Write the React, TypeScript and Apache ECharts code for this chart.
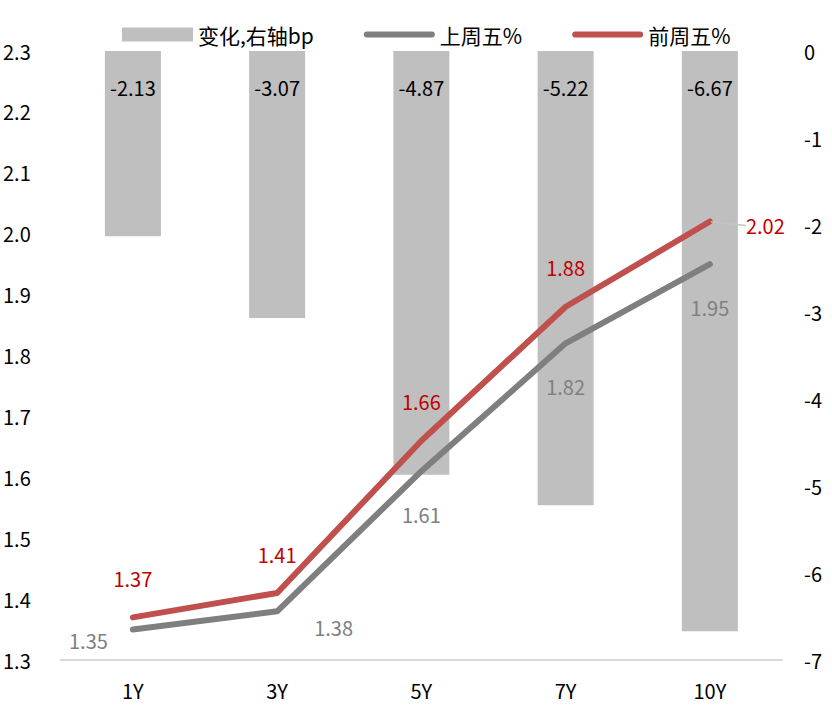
import React, { useEffect, useRef } from "react";
import * as echarts from "echarts";

const categories = ["1Y", "3Y", "5Y", "7Y", "10Y"];
const changeBp = [-2.13, -3.07, -4.87, -5.22, -6.67];
const lastFri = [1.35, 1.38, 1.61, 1.82, 1.95];
const prevFri = [1.37, 1.41, 1.66, 1.88, 2.02];
const leftTicks = { min: 1.3, max: 2.3, interval: 0.1 };
const rightTicks = { min: -7, max: 0, interval: 1 };

const FONT = "'Noto Sans CJK SC', 'Noto Sans', sans-serif";
const LINE_ICON = "path://M3,0 H69 A3,3 0 0 1 69,6 H3 A3,3 0 0 1 3,0 Z";

export default function App() {
  const ref = useRef<HTMLDivElement>(null);
  useEffect(() => {
    if (!ref.current) return;
    const chart = echarts.init(ref.current, null, { renderer: "svg" });
    const grayData = lastFri.map((v, i) => {
      if (i === 0)
        return { value: v, label: { position: "left", distance: 24, offset: [0, 11] } };
      if (i === 1)
        return { value: v, label: { position: "right", distance: 36, offset: [0, 16] } };
      return v;
    });
    const lastIdx = prevFri.length - 1;
    const redData = prevFri.map((v, i) => {
      if (i === lastIdx)
        return {
          value: v,
          label: { position: "right", distance: 2 },
          labelLine: {
            show: true,
            smooth: 0.3,
            lineStyle: { color: "#c4c4c4", width: 1.5 },
          },
        };
      return v;
    });
    chart.setOption({
      animation: false,
      textStyle: { fontFamily: FONT },
      legend: {
        top: 24,
        left: 122,
        padding: 0,
        itemWidth: 71,
        itemHeight: 14,
        itemGap: 50,
        textStyle: { fontSize: 21, color: "#000", fontFamily: FONT },
        data: [
          { name: "变化,右轴bp", icon: "rect" },
          { name: "上周五%", icon: LINE_ICON },
          { name: "前周五%", icon: LINE_ICON },
        ],
      },
      grid: { left: 60, right: 50, top: 51, bottom: 55 },
      xAxis: {
        type: "category",
        data: categories,
        axisTick: { show: false },
        axisLine: { onZero: false, lineStyle: { color: "#d9d9d9", width: 2 } },
        axisLabel: { color: "#000", fontSize: 20, margin: 20, fontFamily: FONT },
      },
      yAxis: [
        {
          type: "value",
          min: leftTicks.min,
          max: leftTicks.max,
          interval: leftTicks.interval,
          splitLine: { show: false },
          axisLine: { show: false },
          axisTick: { show: false },
          axisLabel: {
            color: "#000",
            fontSize: 20,
            margin: 30,
            fontFamily: FONT,
            formatter: (v: number) => v.toFixed(1),
          },
        },
        {
          type: "value",
          min: rightTicks.min,
          max: rightTicks.max,
          interval: rightTicks.interval,
          splitLine: { show: false },
          axisLine: { show: false },
          axisTick: { show: false },
          axisLabel: {
            color: "#000",
            fontSize: 20,
            margin: 22,
            fontFamily: FONT,
            align: "left",
          },
        },
      ],
      series: [
        {
          name: "变化,右轴bp",
          type: "bar",
          yAxisIndex: 1,
          data: changeBp,
          barWidth: 56,
          itemStyle: { color: "#bfbfbf" },
          label: {
            show: true,
            position: "insideTop",
            distance: 26,
            color: "#000",
            fontSize: 20,
            fontFamily: FONT,
            formatter: (p: any) => p.value.toFixed(2),
          },
          z: 1,
        },
        {
          name: "上周五%",
          type: "line",
          yAxisIndex: 0,
          data: grayData,
          symbol: "circle",
          symbolSize: 2,
          itemStyle: { color: "#7f7f7f" },
          lineStyle: { color: "#7f7f7f", width: 6, cap: "round", join: "round" },
          label: {
            show: true,
            position: "bottom",
            distance: 32,
            color: "#808080",
            fontSize: 20,
            fontFamily: FONT,
            formatter: (p: any) => p.value.toFixed(2),
          },
          z: 3,
        },
        {
          name: "前周五%",
          type: "line",
          yAxisIndex: 0,
          data: redData,
          symbol: "circle",
          symbolSize: 2,
          itemStyle: { color: "#c0504d" },
          lineStyle: { color: "#c0504d", width: 6, cap: "round", join: "round" },
          label: {
            show: true,
            position: "top",
            distance: 28,
            color: "#c00000",
            fontSize: 20,
            fontFamily: FONT,
            formatter: (p: any) => p.value.toFixed(2),
          },
          labelLayout: (params: any) =>
            params.dataIndex === lastIdx ? { dx: 33, dy: 4 } : {},
          z: 4,
        },
      ],
    });
    return () => chart.dispose();
  }, []);
  return (
    <div
      ref={ref}
      style={{ position: "fixed", left: 0, top: 0, width: 832, height: 715, background: "#fff" }}
    />
  );
}
